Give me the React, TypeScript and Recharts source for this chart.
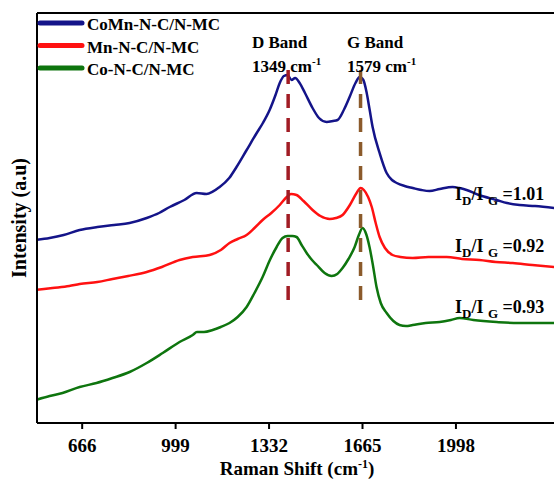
import React from "react";
import { Line, LineChart, ReferenceLine, XAxis, YAxis } from "recharts";

const FONT = '"Liberation Serif", "Times New Roman", serif';

const comnShift = [500, 550, 600, 657, 720, 780, 835, 896, 940, 978, 1030, 1074, 1109, 1156, 1190, 1216, 1250, 1288, 1310, 1334, 1355, 1370, 1385, 1398, 1412, 1425, 1441, 1460, 1487, 1510, 1537, 1560, 1576, 1600, 1619, 1640, 1655, 1668, 1680, 1690, 1701, 1726, 1751, 1770, 1787, 1815, 1844, 1875, 1904, 1940, 1986, 2010, 2036, 2080, 2143, 2180, 2225, 2280, 2351];
const comnInt = [183, 185, 188, 193, 196, 198, 200, 205, 210, 216, 223, 230, 229, 236, 245, 256, 272, 290, 300, 313, 328, 340, 347, 348, 343, 345, 340, 330, 315, 305, 301, 302, 303, 314, 326, 340, 346, 343, 330, 314, 296, 270, 250, 243, 240, 237, 235, 233, 232, 234, 236, 235, 233, 228, 223, 220, 218, 217, 215];

const mnShift = [500, 560, 620, 657, 720, 774, 830, 896, 950, 1013, 1060, 1120, 1160, 1191, 1220, 1252, 1280, 1309, 1340, 1370, 1395, 1410, 1430, 1455, 1487, 1515, 1548, 1570, 1594, 1620, 1644, 1658, 1670, 1685, 1698, 1712, 1726, 1745, 1772, 1800, 1844, 1900, 1965, 2020, 2082, 2140, 2200, 2270, 2351];
const mnInt = [133, 135, 137, 139, 141, 144, 147, 151, 156, 163, 166, 168, 173, 180, 184, 188, 195, 203, 210, 218, 226, 229, 228, 222, 213, 207, 204, 205, 208, 218, 230, 235, 233, 226, 216, 200, 186, 175, 168, 166, 165, 166, 166, 164, 163, 161, 160, 158, 156];

const coShift = [500, 550, 596, 657, 717, 774, 835, 896, 953, 1013, 1060, 1075, 1100, 1131, 1160, 1191, 1220, 1252, 1280, 1309, 1335, 1359, 1380, 1398, 1415, 1430, 1448, 1466, 1485, 1502, 1530, 1555, 1575, 1594, 1615, 1637, 1652, 1665, 1678, 1690, 1702, 1715, 1730, 1751, 1775, 1797, 1820, 1844, 1890, 1940, 1980, 2011, 2060, 2143, 2220, 2351];
const coInt = [23, 27, 30, 36, 40, 45, 51, 60, 70, 81, 88, 91, 91, 93, 96, 100, 106, 116, 130, 146, 163, 176, 185, 187, 187, 186, 178, 170, 163, 158, 150, 147, 149, 155, 164, 176, 188, 195, 189, 176, 158, 136, 120, 110, 102, 98, 97, 98, 100, 101, 103, 105, 103, 101, 100, 100];

const xTicks = [666, 999, 1332, 1665, 1998];
const seriesNames = ["CoMn-N-C/N-MC", "Mn-N-C/N-MC", "Co-N-C/N-MC"];
const seriesColors = ["#141489", "#ff1111", "#0e750e"];
const ratios = ["1.01", "0.92", "0.93"];
const bandShift = [1400, 1658];
const bandLabels = ["D Band", "G Band"];
const bandValues = ["1349", "1579"];

const toPoints = (xs: number[], ys: number[]) => xs.map((x, i) => ({ x, y: ys[i] }));

const series = [
  toPoints(comnShift, comnInt),
  toPoints(mnShift, mnInt),
  toPoints(coShift, coInt),
];

const axisLine = { stroke: "#000", strokeWidth: 2 };

export default function App() {
  return (
    <div style={{ position: "absolute", left: 0, top: 0, width: 554, height: 479, overflow: "hidden", background: "#fff" }}>
      <LineChart width={556} height={479} margin={{ top: 12, right: 1, bottom: 0, left: 0 }}>
        <XAxis
          dataKey="x"
          type="number"
          domain={[505, 2351]}
          allowDataOverflow
          ticks={xTicks}
          height={56}
          tickSize={6}
          tickMargin={10}
          axisLine={axisLine}
          tickLine={{ stroke: "#000", strokeWidth: 2 }}
          tick={{ fill: "#000", fontSize: 19, fontWeight: "bold", fontFamily: FONT }}
        />
        <XAxis
          xAxisId="top"
          dataKey="x"
          type="number"
          orientation="top"
          domain={[505, 2351]}
          height={1}
          tick={false}
          tickLine={false}
          axisLine={axisLine}
        />
        <YAxis type="number" domain={[0, 410]} allowDataOverflow width={37} tick={false} tickLine={false} axisLine={axisLine} />
        {series.map((d, i) => (
          <Line
            key={seriesNames[i]}
            data={d}
            dataKey="y"
            type="monotone"
            stroke={seriesColors[i]}
            strokeWidth={2.5}
            dot={false}
            isAnimationActive={false}
          />
        ))}
        <ReferenceLine
          segment={[{ x: bandShift[0], y: 353 }, { x: bandShift[0], y: 116 }]}
          stroke="#a11c24"
          strokeWidth={3.5}
          strokeDasharray="14 10"
        />
        <ReferenceLine
          segment={[{ x: bandShift[1], y: 353 }, { x: bandShift[1], y: 116 }]}
          stroke="#8b5a2b"
          strokeWidth={3.5}
          strokeDasharray="14 10"
        />
      </LineChart>

      <svg
        width={554}
        height={479}
        style={{ position: "absolute", left: 0, top: 0, pointerEvents: "none" }}
        fontFamily={FONT}
        fontWeight="bold"
        fill="#000"
      >
        {seriesNames.map((name, i) => (
          <g key={name}>
            <line x1={40} x2={82} y1={23 + i * 22.5} y2={23 + i * 22.5} stroke={seriesColors[i]} strokeWidth={5} strokeLinecap="round" />
            <text x={87} y={30 + i * 22.5} fontSize={17}>{name}</text>
          </g>
        ))}

        {bandLabels.map((b, i) => (
          <g key={b}>
            <text x={i === 0 ? 252 : 347} y={48} fontSize={17}>{b}</text>
            <text x={i === 0 ? 252 : 347} y={72} fontSize={17}>
              {bandValues[i]} cm<tspan fontSize={11} dy={-7}>-1</tspan>
            </text>
          </g>
        ))}

        {ratios.map((r, i) => (
          <text key={r} x={455} y={[200, 252, 313][i]} fontSize={18}>
            I<tspan fontSize={13} dy={5}>D</tspan>
            <tspan dy={-5}>/I </tspan>
            <tspan fontSize={13} dy={5}>G</tspan>
            <tspan dy={-5}> ={r}</tspan>
          </text>
        ))}

        <text x={0} y={0} fontSize={20} textAnchor="middle" transform="translate(26 218) rotate(-90)">
          Intensity (a.u)
        </text>
        <text x={297} y={475} fontSize={19} textAnchor="middle">
          Raman Shift (cm<tspan fontSize={12} dy={-7}>-1</tspan>
          <tspan dy={7}>)</tspan>
        </text>
      </svg>
    </div>
  );
}
